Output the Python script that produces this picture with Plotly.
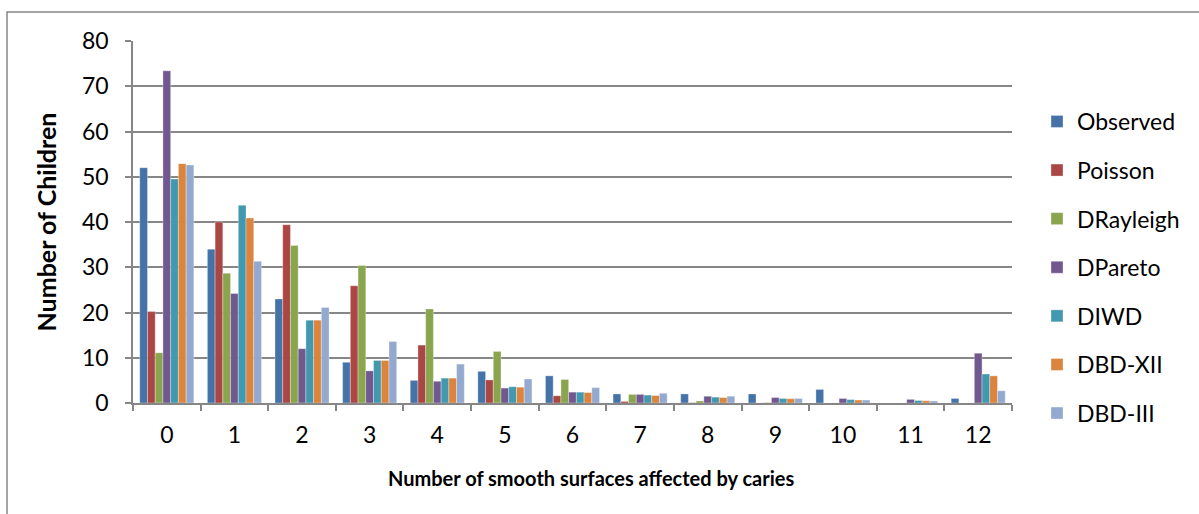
import plotly.graph_objects as go

categories = [str(i) for i in range(13)]
observed  = [52, 34, 23, 9, 5, 7, 6, 2, 2, 2, 3, 0, 1]
poisson   = [20.2, 40.0, 39.4, 25.9, 12.8, 5.1, 1.6, 0.35, 0.08, 0.02, 0.0, 0.0, 0.0]
drayleigh = [11.1, 28.7, 34.8, 30.4, 20.8, 11.4, 5.2, 1.9, 0.45, 0.1, 0.02, 0.0, 0.0]
dpareto   = [73.4, 24.2, 12.0, 7.1, 4.8, 3.3, 2.4, 1.9, 1.5, 1.2, 1.0, 0.8, 11.0]
diwd      = [49.5, 43.7, 18.3, 9.4, 5.5, 3.6, 2.4, 1.75, 1.3, 1.0, 0.75, 0.55, 6.4]
dbd_xii   = [52.9, 40.9, 18.3, 9.4, 5.5, 3.5, 2.3, 1.65, 1.2, 0.95, 0.65, 0.5, 6.0]
dbd_iii   = [52.6, 31.3, 21.1, 13.6, 8.6, 5.3, 3.4, 2.15, 1.5, 1.0, 0.65, 0.45, 2.7]

series_names = ["Observed", "Poisson", "DRayleigh", "DPareto", "DIWD", "DBD-XII", "DBD-III"]
series_values = [observed, poisson, drayleigh, dpareto, diwd, dbd_xii, dbd_iii]
colors = ["#4572A7", "#AA4643", "#89A54E", "#71588F", "#4198AF", "#DB843D", "#93A9CF"]
x_title = "Number of smooth surfaces affected by caries"
y_title = "Number of Children"

FONT = "Lato, 'Open Sans', sans-serif"

fig = go.Figure()
for name, vals, col in zip(series_names, series_values, colors):
    fig.add_trace(go.Bar(
        x=categories, y=vals, name=name, legendgroup=name,
        marker=dict(color=col, line=dict(color="rgba(255,255,255,0.55)", width=0.6)),
    ))

W, H = 1199, 514
L, R, T, B = 133, 187, 41, 111
pw, ph = W - L - R, H - T - B

fig.update_layout(
    width=W, height=H,
    margin=dict(l=L, r=R, t=T, b=B, pad=0),
    paper_bgcolor="white", plot_bgcolor="white",
    barmode="group", bargap=0.2, bargroupgap=0.0,
    font=dict(family=FONT, size=24, color="black"),
    legend=dict(
        x=(1037 - L) / pw, y=(H - B - 100) / ph, xanchor="left", yanchor="top",
        font=dict(size=23, family=FONT), tracegroupgap=15.7,
        bgcolor="rgba(0,0,0,0)",
    ),
    xaxis=dict(
        type="category", tickson="boundaries", ticks="outside", ticklen=6,
        tickcolor="#868686", tickwidth=1.5,
        showline=True, linecolor="#868686", linewidth=1.5,
        showgrid=False, tickfont=dict(size=23, family=FONT),
        ticklabelstandoff=11,
    ),
    yaxis=dict(
        range=[0, 80], dtick=10, ticks="outside", ticklen=6,
        tickcolor="#868686", tickwidth=1.5,
        showline=True, linecolor="#868686", linewidth=1.5,
        showgrid=True, gridcolor="#868686", gridwidth=1.5,
        zeroline=False, tickfont=dict(size=23, family=FONT),
        ticklabelstandoff=12,
        title=dict(text="<b>" + y_title + "</b>", font=dict(size=25, family=FONT), standoff=18),
    ),
    annotations=[dict(
        text="<b>" + x_title + "</b>", xref="paper", yref="paper",
        x=(591 - L) / pw, y=(H - B - 478) / ph, xanchor="center", yanchor="middle",
        showarrow=False, font=dict(size=20, family=FONT, color="black"),
    )],
    shapes=[dict(
        type="rect", xref="paper", yref="paper",
        x0=(7 - L) / pw, x1=(W + 10 - L) / pw,
        y0=(H - B - (H + 10)) / ph, y1=(H - B - 12) / ph,
        line=dict(color="#868686", width=1.5), fillcolor="rgba(0,0,0,0)", layer="below",
    )],
)

fig.write_html("out.html", config={"displayModeBar": False},
               post_script="document.body.style.margin='0px';")
